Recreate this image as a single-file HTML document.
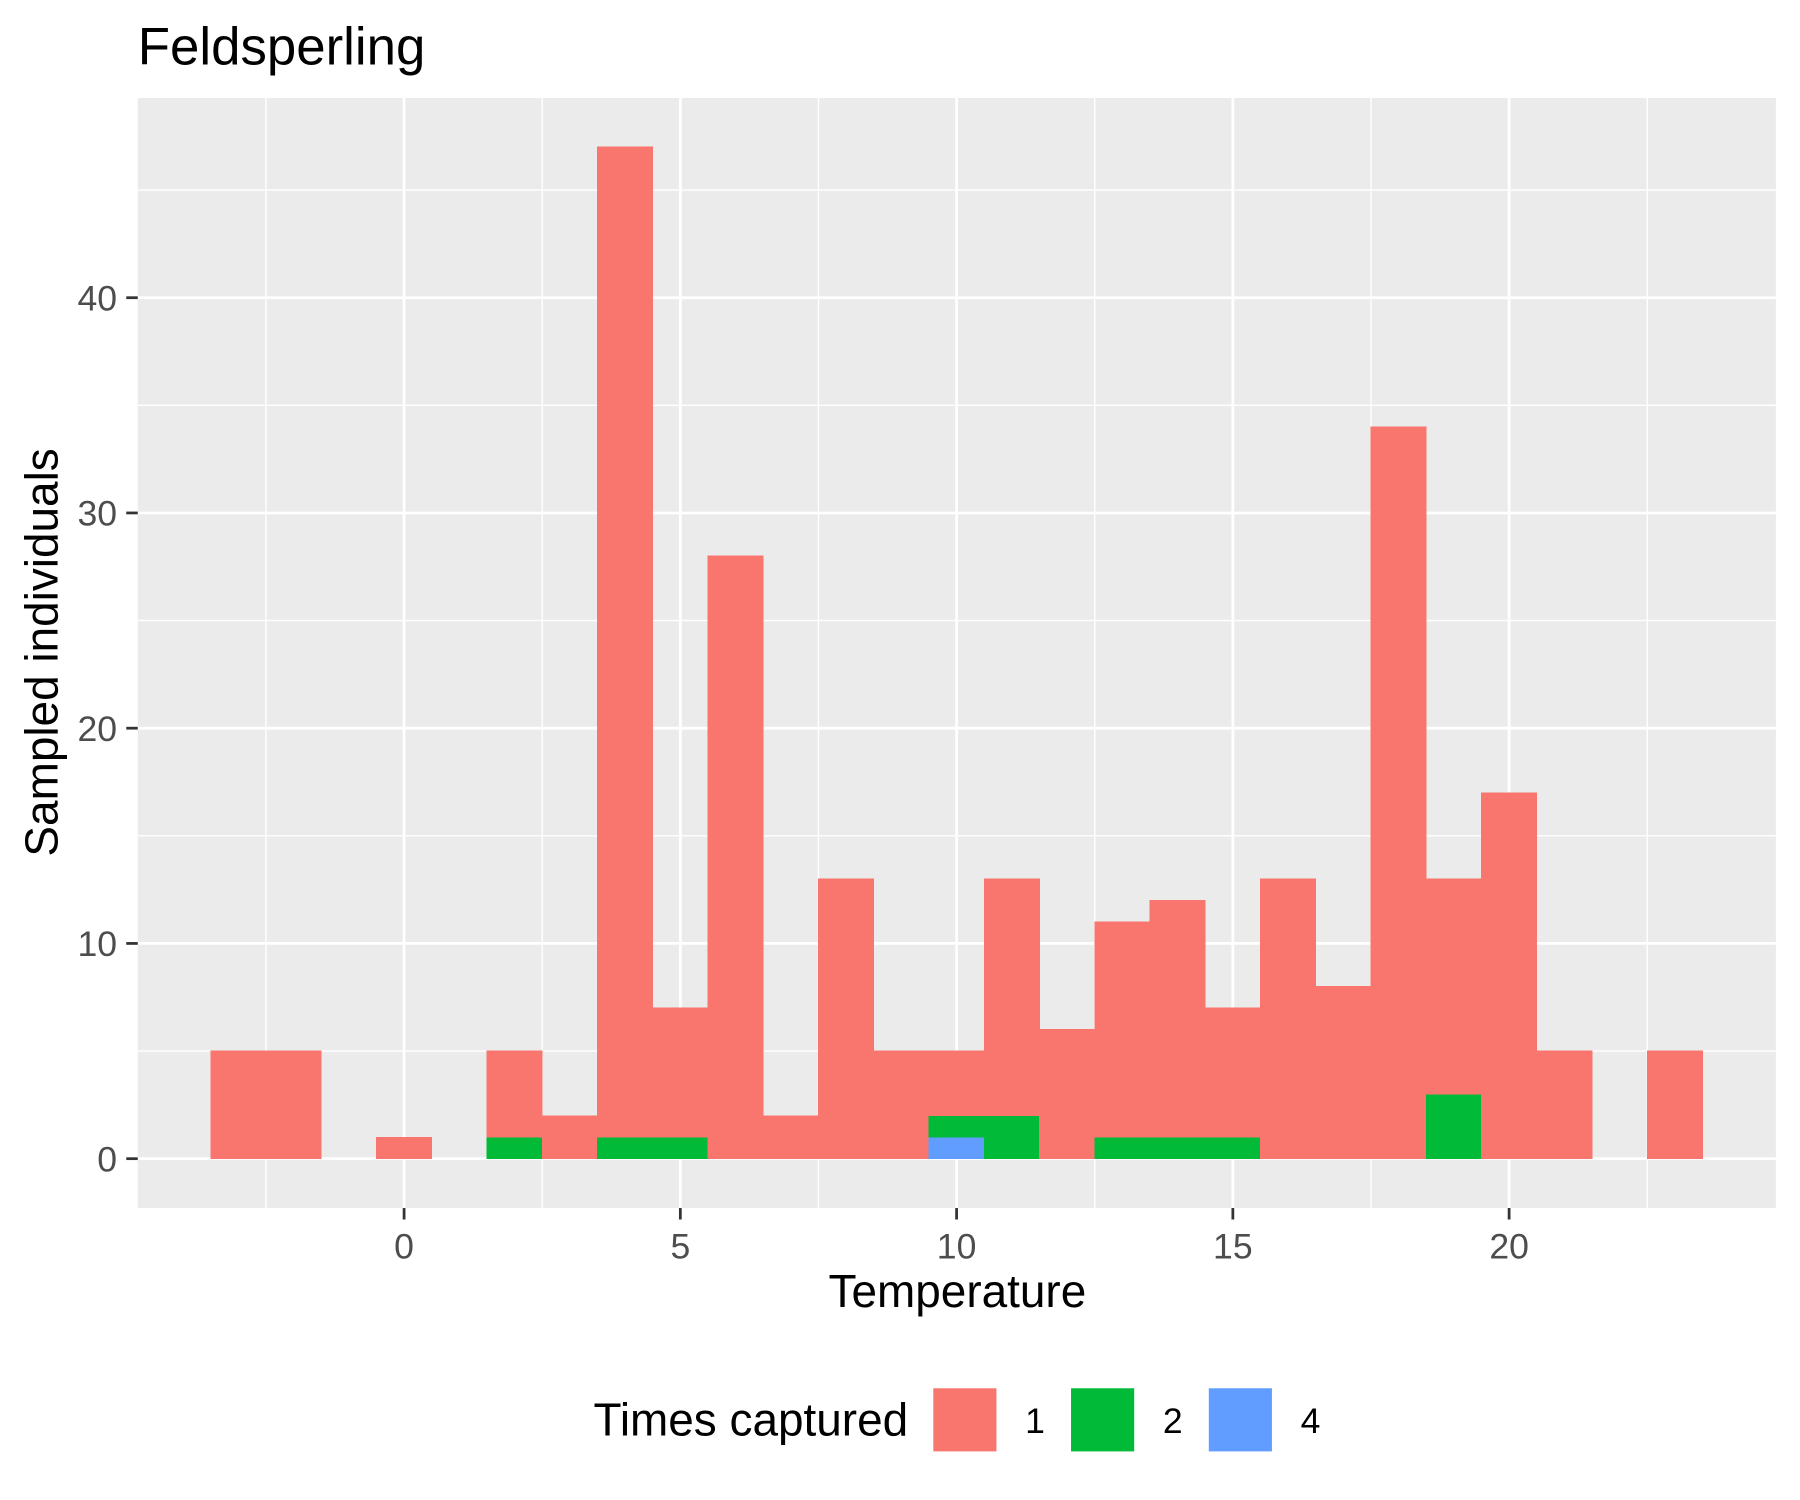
<!DOCTYPE html>
<html><head><meta charset="utf-8"><style>
html,body{margin:0;padding:0;background:#fff;}
svg{display:block;font-family:"Liberation Sans",Arial,sans-serif;}
</style></head><body>
<svg id="chart" width="1800" height="1500" viewBox="0 0 1568 1306" xmlns="http://www.w3.org/2000/svg">
<rect width="1568" height="1306" fill="#fff"/>
<text x="120" y="56" font-size="46" fill="#000">Feldsperling</text>
<rect x="120" y="85" width="1427" height="967" fill="#ebebeb"/>
<g id="grid"></g>
<g id="bars" shape-rendering="crispEdges"></g>
<g id="axes"></g>
<text x="834" y="1138" font-size="40" text-anchor="middle" fill="#000">Temperature</text>
<text transform="translate(50,568) rotate(-90)" font-size="40" text-anchor="middle" fill="#000">Sampled individuals</text>
<g>
<text x="517" y="1250" font-size="40" fill="#000">Times captured</text>
<rect x="812" y="1208" width="57" height="57" fill="#F8766D" stroke="#fff" stroke-width="2"/>
<text x="893" y="1248" font-size="31" fill="#000">1</text>
<rect x="932" y="1208" width="57" height="57" fill="#00BA38" stroke="#fff" stroke-width="2"/>
<text x="1013" y="1248" font-size="31" fill="#000">2</text>
<rect x="1052" y="1208" width="57" height="57" fill="#619CFF" stroke="#fff" stroke-width="2"/>
<text x="1133" y="1248" font-size="31" fill="#000">4</text>
</g>
</svg>
<script>
const temps = [-3,-2,0,2,3,4,5,6,7,8,9,10,11,12,13,14,15,16,17,18,19,20,21,23];
const count1 = [5,5,1,4,2,46,6,28,2,13,5,3,11,6,10,11,6,13,8,34,10,17,5,5];
const count2 = [0,0,0,1,0,1,1,0,0,0,0,1,2,0,1,1,1,0,0,0,3,0,0,0];
const count4 = [0,0,0,0,0,0,0,0,0,0,0,1,0,0,0,0,0,0,0,0,0,0,0,0];
const xTicks = [0,5,10,15,20];
const yTicks = [0,10,20,30,40];
const NS="http://www.w3.org/2000/svg";
const X0=352, XS=48.13, Y0=1009, YS=18.75;
function xs(v){return X0+v*XS;}
function ys(v){return Y0-v*YS;}
function mk(tag,attrs,parent){const e=document.createElementNS(NS,tag);for(const k in attrs)e.setAttribute(k,attrs[k]);parent.appendChild(e);return e;}
const grid=document.getElementById('grid'),bars=document.getElementById('bars'),axes=document.getElementById('axes');
yTicks.forEach(t=>{const l=mk('line',{x1:120,x2:1547,y1:ys(t+5),y2:ys(t+5),stroke:'#fff','stroke-width':1.2},grid);

});
[-2.5].concat(xTicks.map(t=>t+2.5)).forEach(t=>{const l=mk('line',{x1:xs(t),x2:xs(t),y1:85,y2:1052,stroke:'#fff','stroke-width':1.2},grid);

});
yTicks.forEach(t=>{const l=mk('line',{x1:120,x2:1547,y1:ys(t),y2:ys(t),stroke:'#fff','stroke-width':2.4},grid);


const tk=mk('line',{x1:110,x2:120,y1:ys(t),y2:ys(t),stroke:'#333','stroke-width':2.4},axes);


const tx=mk('text',{x:102,y:ys(t)+11,'font-size':31,'text-anchor':'end',fill:'#4d4d4d'},axes);tx.textContent=t;

});
xTicks.forEach(t=>{const l=mk('line',{x1:xs(t),x2:xs(t),y1:85,y2:1052,stroke:'#fff','stroke-width':2.4},grid);


const tk=mk('line',{x1:xs(t),x2:xs(t),y1:1052,y2:1062,stroke:'#333','stroke-width':2.4},axes);


const tx=mk('text',{x:xs(t),y:1096,'font-size':31,'text-anchor':'middle',fill:'#4d4d4d'},axes);tx.textContent=t;

});
temps.forEach((t,i)=>{
  let base=0;
  [[count4[i],'#619CFF','bar-times-4'],[count2[i],'#00BA38','bar-times-2'],[count1[i],'#F8766D','bar-times-1']].forEach(([c,col,name])=>{
    if(c<=0)return;
    const r=mk('rect',{x:xs(t-0.5),y:ys(base+c),width:XS,height:c*YS,fill:col,stroke:col,'stroke-width':0.6},bars);
    
    
    base+=c;
  });
});
</script>
</body></html>
